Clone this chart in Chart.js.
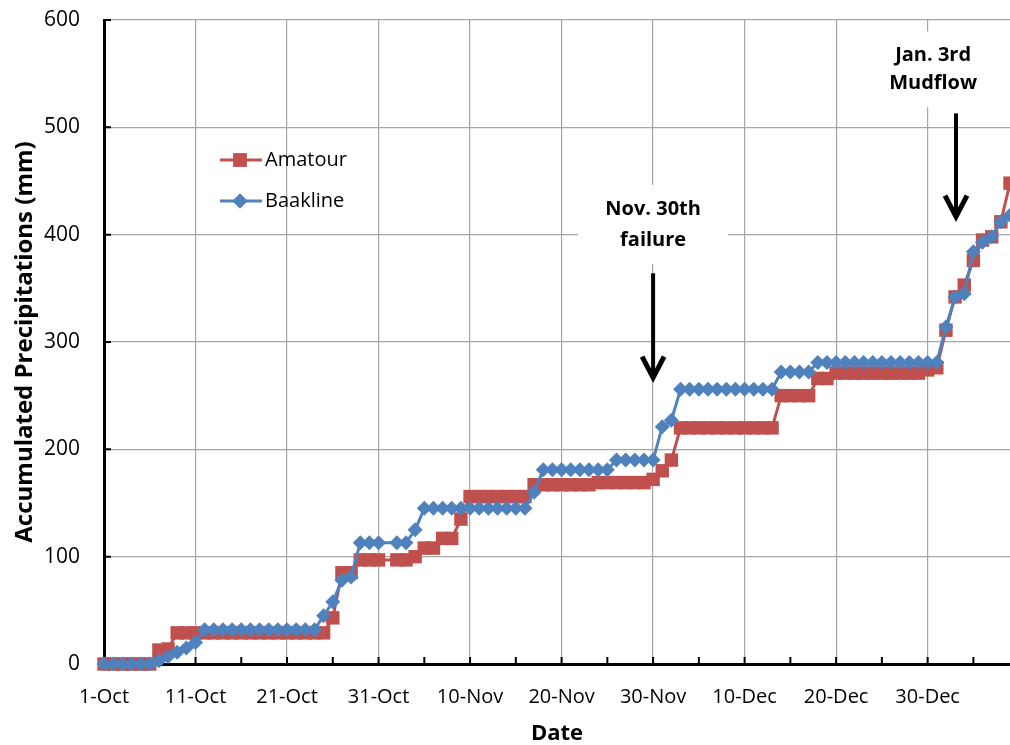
<!DOCTYPE html>
<html>
<head>
<meta charset="utf-8">
<script src="https://cdn.jsdelivr.net/npm/chart.js@4.4.0/dist/chart.umd.min.js"></script>
<style>
  html, body { margin: 0; padding: 0; background: #fff; overflow: hidden; }
  #wrap { width: 1010px; height: 745px; position: relative; }
</style>
</head>
<body>
<div id="wrap"><canvas id="precipChart"></canvas></div>
<script>
// accumulated precipitation (mm), one value per day from 1-Oct to 8-Jan
// null = no reading that day (line is joined across it)
var amatour = [
  0, 0, 0, 0, 0, 0, 13, 14,
  29, 29, 29, 29, 29, 29, 29, 29, 29, 29, 29, 29, 29, 29, 29, 29, 29,
  43, 85, 85, 97, 97, 97, null, 97, 97, 100, 108, 108, 117, 117, 135,
  156, 156, 156, 156, 156, 156, 156,
  167, 167, 167, 167, 167, 167, 167,
  169, 169, 169, 169, 169, 169, 172, 180, 190,
  220, 220, 220, 220, 220, 220, 220, 220, 220, 220, 220,
  250, 250, 250, 250, 266, 266,
  271, 271, 271, 271, 271, 271, 271, 271, 271, 271,
  274, 276, 311, 342, 353, 376, 395, 398, 412, 448
];
var baakline = [
  0, 0, 0, 0, 0, 0, 3, 7, 11, 15, 20,
  32, 32, 32, 32, 32, 32, 32, 32, 32, 32, 32, 32, 32,
  45, 58, 78, 81, 113, 113, 113, null, 113, 113, 125,
  145, 145, 145, 145, 145, 145, 145, 145, 145, 145, 145, 145,
  160, 181, 181, 181, 181, 181, 181, 181, 181,
  190, 190, 190, 190, 190, 221, 227,
  256, 256, 256, 256, 256, 256, 256, 256, 256, 256, 256,
  272, 272, 272, 272,
  281, 281, 281, 281, 281, 281, 281, 281, 281, 281, 281, 281, 281, 281,
  314, 342, 345, 384, 393, 398, 412, 418
];
var tickLabels = ['1-Oct', '11-Oct', '21-Oct', '31-Oct', '10-Nov', '20-Nov', '30-Nov', '10-Dec', '20-Dec', '30-Dec'];
var yMin = 0, yMax = 600, yStep = 100;

// day labels for the category axis
var monthNames = ['Jan', 'Feb', 'Mar', 'Apr', 'May', 'Jun', 'Jul', 'Aug', 'Sep', 'Oct', 'Nov', 'Dec'];
var days = [];
var dt = new Date(2012, 9, 1);
for (var i = 0; i < amatour.length; i++) {
  days.push(dt.getDate() + '-' + monthNames[dt.getMonth()]);
  dt.setDate(dt.getDate() + 1);
}

var RED = '#C0504D', BLUE = '#4F81BD', GRID = '#a6a6a6';
var FONT = '"Open Sans", "Noto Sans", sans-serif';

function drawArrow(ctx, x, yTop, yTip) {
  ctx.save();
  ctx.strokeStyle = '#000';
  ctx.lineWidth = 4;
  ctx.beginPath();
  ctx.moveTo(x, yTop);
  ctx.lineTo(x, yTip - 3);
  ctx.stroke();
  ctx.lineWidth = 5;
  ctx.lineJoin = 'miter';
  ctx.beginPath();
  ctx.moveTo(x - 11, yTip - 23);
  ctx.lineTo(x, yTip - 2);
  ctx.lineTo(x + 11, yTip - 23);
  ctx.stroke();
  ctx.restore();
}

function drawNote(ctx, x, yA, yB, halfW, lines) {
  ctx.save();
  ctx.fillStyle = '#fff';
  ctx.fillRect(x - halfW, yA - 24, halfW * 2, yB - yA + 48);
  ctx.fillStyle = '#000';
  ctx.font = 'bold 20px ' + FONT;
  ctx.textAlign = 'center';
  ctx.textBaseline = 'middle';
  ctx.fillText(lines[0], x, yA);
  ctx.fillText(lines[1], x, yB);
  ctx.restore();
}

var overlay = {
  id: 'overlay',
  beforeDatasetsDraw: function (chart) {
    var ctx = chart.ctx, xs = chart.scales.x, ys = chart.scales.y, a = chart.chartArea;
    ctx.save();
    ctx.strokeStyle = '#000';
    ctx.lineWidth = 2;
    ctx.beginPath();
    for (var i = 5; i < days.length; i += 5) {
      var px = xs.getPixelForValue(i);
      ctx.moveTo(px, a.bottom);
      ctx.lineTo(px, a.bottom - 7);
    }
    for (var v = yMin + yStep; v <= yMax; v += yStep) {
      var py = ys.getPixelForValue(v);
      ctx.moveTo(a.left, py);
      ctx.lineTo(a.left + 7, py);
    }
    ctx.stroke();
    ctx.restore();
  },
  afterDraw: function (chart) {
    var ctx = chart.ctx, xs = chart.scales.x, ys = chart.scales.y, a = chart.chartArea;

    // Nov. 30th failure
    var xn = xs.getPixelForValue(60);
    drawNote(ctx, xn, ys.getPixelForValue(424), ys.getPixelForValue(395), 75, ['Nov. 30th', 'failure']);
    drawArrow(ctx, xn, ys.getPixelForValue(364), ys.getPixelForValue(265));

    // Jan. 3rd Mudflow
    drawNote(ctx, xs.getPixelForValue(90.6), ys.getPixelForValue(567), ys.getPixelForValue(541), 52, ['Jan. 3rd', 'Mudflow']);
    drawArrow(ctx, xs.getPixelForValue(93.1), ys.getPixelForValue(513), ys.getPixelForValue(415));

    // legend inside the plot
    var items = [
      { text: 'Amatour', color: RED, style: 'rect', r: 9.5, y: a.top + 140 },
      { text: 'Baakline', color: BLUE, style: 'rectRot', r: 7.5, y: a.top + 181 }
    ];
    ctx.save();
    items.forEach(function (it) {
      var lx = a.left + 116;
      ctx.strokeStyle = it.color;
      ctx.lineWidth = 3;
      ctx.beginPath();
      ctx.moveTo(lx, it.y);
      ctx.lineTo(lx + 42, it.y);
      ctx.stroke();
      ctx.fillStyle = it.color;
      Chart.helpers.drawPoint(ctx, { pointStyle: it.style, radius: it.r, borderWidth: 0 }, lx + 20, it.y);
      ctx.fill();
      ctx.fillStyle = '#000';
      ctx.font = '20px ' + FONT;
      ctx.textAlign = 'left';
      ctx.textBaseline = 'middle';
      ctx.fillText(it.text, lx + 45, it.y);
    });
    ctx.restore();
  }
};

new Chart(document.getElementById('precipChart').getContext('2d'), {
  type: 'line',
  data: {
    labels: days,
    datasets: [
      {
        label: 'Amatour',
        data: amatour,
        borderColor: RED,
        backgroundColor: RED,
        borderWidth: 3,
        pointStyle: 'rect',
        pointRadius: 9.5,
        pointBorderWidth: 0,
        spanGaps: true,
        clip: false,
        order: 2
      },
      {
        label: 'Baakline',
        data: baakline,
        borderColor: BLUE,
        backgroundColor: BLUE,
        borderWidth: 3,
        pointStyle: 'rectRot',
        pointRadius: 7.5,
        pointBorderWidth: 0,
        spanGaps: true,
        clip: false,
        order: 1
      }
    ]
  },
  options: {
    responsive: true,
    maintainAspectRatio: false,
    animation: false,
    layout: { autoPadding: false, padding: { top: 20, right: 0, left: 0, bottom: 0 } },
    plugins: {
      legend: { display: false },
      tooltip: { enabled: false }
    },
    scales: {
      x: {
        type: 'category',
        offset: false,
        afterFit: function (s) { s.height = 81; },
        grid: {
          color: function (c) { return (c.index > 0 && tickLabels.indexOf(days[c.index]) >= 0) ? GRID : 'rgba(0,0,0,0)'; },
          lineWidth: 1.2,
          drawTicks: true,
          tickLength: 21,
          tickColor: 'rgba(0,0,0,0)'
        },
        border: { color: '#000', width: 3 },
        ticks: {
          autoSkip: false,
          maxRotation: 0,
          padding: 0,
          color: '#000',
          font: { family: FONT, size: 20 },
          callback: function (v, i) { return tickLabels.indexOf(days[i]) >= 0 ? days[i] : ''; }
        },
        title: {
          display: true,
          text: 'Date',
          color: '#000',
          font: { family: FONT, size: 22, weight: 'bold', lineHeight: 1 },
          padding: 0
        }
      },
      y: {
        min: yMin,
        max: yMax,
        afterFit: function (s) { s.width = 104; },
        grid: {
          color: function (c) { return c.index > 0 ? GRID : 'rgba(0,0,0,0)'; },
          lineWidth: 1.2,
          drawTicks: true,
          tickLength: 24,
          tickColor: 'rgba(0,0,0,0)'
        },
        border: { color: '#000', width: 3 },
        ticks: {
          stepSize: yStep,
          padding: 0,
          color: '#000',
          font: { family: FONT, size: 21 }
        },
        title: {
          display: true,
          text: 'Accumulated Precipitations (mm)',
          color: '#000',
          font: { family: FONT, size: 24, weight: 'bold', lineHeight: 1.1 },
          padding: { top: 12, bottom: 0 }
        }
      }
    }
  },
  plugins: [overlay]
});
</script>
</body>
</html>
